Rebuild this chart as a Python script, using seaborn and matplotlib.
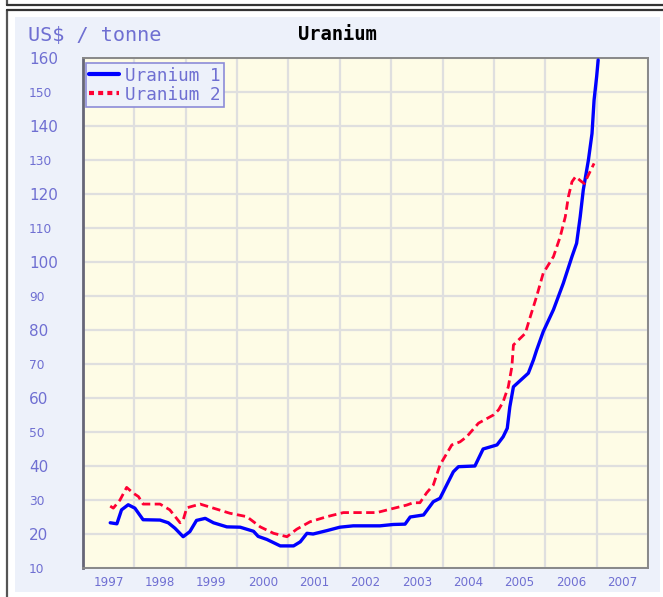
import matplotlib
matplotlib.use("Agg")
import matplotlib.pyplot as plt
import seaborn as sns
import pandas as pd
from matplotlib.patches import Rectangle
from matplotlib.lines import Line2D

# ---- data ----
u1_years = [1997.53, 1997.66, 1997.75, 1997.88, 1998.01, 1998.17, 1998.50, 1998.66, 1998.79,
            1998.95, 1999.08, 1999.21, 1999.38, 1999.54, 1999.80, 2000.06, 2000.32, 2000.41,
            2000.58, 2000.84, 2001.10, 2001.23, 2001.36, 2001.48, 2001.75, 2002.00, 2002.26,
            2002.78, 2003.04, 2003.27, 2003.37, 2003.63, 2003.82, 2003.95, 2004.21, 2004.31,
            2004.63, 2004.79, 2005.06, 2005.18, 2005.26, 2005.31, 2005.38, 2005.67, 2005.77,
            2005.83, 2005.96, 2006.16, 2006.35, 2006.52, 2006.61, 2006.68, 2006.74, 2006.84,
            2006.91, 2006.95, 2007.00, 2007.03]
u1_values = [23.3, 23.0, 27.1, 28.6, 27.6, 24.2, 24.1, 23.3, 21.7,
             19.2, 20.7, 24.0, 24.6, 23.3, 22.1, 22.0, 20.8, 19.3,
             18.4, 16.5, 16.5, 17.7, 20.2, 20.0, 21.0, 22.0, 22.4,
             22.4, 22.8, 22.9, 25.0, 25.6, 29.5, 30.5, 38.3, 39.8,
             40.0, 45.0, 46.2, 48.6, 51.1, 57.4, 63.3, 67.3, 71.2,
             74.0, 79.5, 86.0, 93.7, 101.6, 105.5, 113.3, 121.2, 130.0,
             137.8, 147.6, 154.5, 159.4]

u2_years = [1997.53, 1997.59, 1997.72, 1997.85, 1997.98, 1998.08, 1998.17, 1998.50, 1998.69,
            1998.89, 1998.95, 1999.02, 1999.28, 1999.54, 1999.86, 2000.19, 2000.45, 2000.71,
            2000.97, 2001.16, 2001.42, 2001.75, 2002.07, 2002.72, 2002.98, 2003.30, 2003.43,
            2003.56, 2003.69, 2003.82, 2003.95, 2004.18, 2004.34, 2004.47, 2004.70, 2004.99,
            2005.09, 2005.18, 2005.28, 2005.35, 2005.38, 2005.61, 2005.70, 2005.83, 2005.96,
            2006.16, 2006.29, 2006.39, 2006.45, 2006.52, 2006.59, 2006.71, 2006.76, 2006.84,
            2006.95]
u2_values = [28.2, 27.6, 30.0, 33.7, 32.0, 31.0, 28.8, 28.8, 27.1,
             23.3, 24.1, 27.7, 28.8, 27.6, 26.1, 25.1, 22.1, 20.2,
             19.2, 21.4, 23.6, 25.1, 26.3, 26.3, 27.3, 28.5, 29.2,
             29.2, 32.1, 34.4, 40.3, 46.2, 47.1, 48.6, 52.6, 55.0,
             56.5, 58.9, 63.3, 69.2, 75.6, 79.0, 83.5, 89.8, 96.7,
             101.6, 107.4, 113.3, 119.2, 123.6, 125.1, 123.6, 123.1, 125.6,
             129.0]

series_names = ["Uranium 1", "Uranium 2"]
year_labels = [str(y) for y in range(1997, 2008)]
y_ticks = list(range(10, 161, 10))
title = "Uranium"
y_unit = "US$ / tonne"

# ---- styling ----
sns.set_style("white")
plt.rcParams['font.family'] = ['DejaVu Sans']
LABEL_C = "#6f6fd2"
PANEL_C = "#edf1fa"
PLOT_BG = "#fefce6"
GRID_C = "#dfdfdf"

fig = plt.figure(figsize=(6.63, 5.97), dpi=100)
fig.patch.set_facecolor("white")

W, H = 663.0, 597.0
# outer frame lines
fig.add_artist(Line2D([7 / W, 7 / W], [0, 1 - 10 / H], color="#555555", lw=1.6, transform=fig.transFigure))
fig.add_artist(Line2D([7 / W, 7 / W], [1 - 5 / H, 1], color="#555555", lw=1.6, transform=fig.transFigure))
fig.add_artist(Line2D([7 / W, 1], [1 - 4.5 / H, 1 - 4.5 / H], color="#333333", lw=1.6, transform=fig.transFigure))
fig.add_artist(Line2D([7 / W, 1], [1 - 10 / H, 1 - 10 / H], color="#333333", lw=1.6, transform=fig.transFigure))
# blue panel
fig.add_artist(Rectangle((15 / W, 1 - 592 / H), 645 / W, 575 / H, transform=fig.transFigure,
                         facecolor=PANEL_C, edgecolor="none", zorder=0))

ax = fig.add_axes([83 / W, 1 - 568 / H, 565 / W, 510 / H])
ax.set_facecolor(PLOT_BG)

df1 = pd.DataFrame({"year": u1_years, "value": u1_values})
df2 = pd.DataFrame({"year": u2_years, "value": u2_values})
sns.lineplot(data=df1, x="year", y="value", ax=ax, color="#0000ff", lw=2.4,
             estimator=None, sort=False, zorder=3)
sns.lineplot(data=df2, x="year", y="value", ax=ax, color="#ff0033", lw=2.0,
             estimator=None, sort=False, zorder=3, dashes=False)
ax.lines[-1].set_linestyle((0, (3, 1.6)))

ax.set_xlim(1997, 2008)
ax.set_ylim(10, 160)
ax.set_xlabel("")
ax.set_ylabel("")

# x ticks: major at year boundaries, labels at mid-year
ax.set_xticks(range(1997, 2009))
ax.set_xticklabels([""] * 12)
ax.set_xticks([y + 0.5 for y in range(1997, 2008)], minor=True)
ax.set_xticklabels(year_labels, minor=True)
ax.tick_params(axis="x", which="major", length=5, width=1.2, color="#555555", direction="out")
ax.tick_params(axis="x", which="minor", length=2.5, width=1.0, color="#555555", direction="out",
               labelsize=8.6, labelcolor=LABEL_C, pad=3)

# y ticks: marks from the axis, labels drawn left-aligned at the panel edge
ax.set_yticks(y_ticks)
ax.set_yticklabels([""] * len(y_ticks))
ax.tick_params(axis="y", which="major", length=4, width=1.2, color="#555555", direction="out")
ytrans = ax.get_yaxis_transform()
for v in y_ticks:
    big = v % 20 == 0
    ax.text((29 - 83) / 565.0, v, str(v), transform=ytrans, ha="left", va="center_baseline",
            fontsize=11 if big else 8.8, color=LABEL_C, clip_on=False)

ax.grid(True, which="major", color=GRID_C, lw=1.6, zorder=0)
ax.set_axisbelow(True)
for side in ["top", "right", "bottom"]:
    ax.spines[side].set_color("#888888")
    ax.spines[side].set_linewidth(1.4)
ax.spines["left"].set_color("#666677")
ax.spines["left"].set_linewidth(2.0)

# titles
fig.text(28 / W, 1 - 35 / H, y_unit, fontsize=14.5, color=LABEL_C, family="DejaVu Sans Mono",
         va="center", ha="left")
fig.text(337 / W, 1 - 35 / H, title, fontsize=13.5, color="black", family="DejaVu Sans Mono",
         fontweight="semibold", va="center", ha="center")

# legend
handles = [Line2D([], [], color="#0000ff", lw=3.0),
           Line2D([], [], color="#ff0033", lw=3.0, linestyle=(0, (1.2, 1.0)))]
leg = ax.legend(handles, series_names, loc="upper left", bbox_to_anchor=(0.005, 0.99),
                frameon=True, fancybox=False, handlelength=1.7, handletextpad=0.3,
                borderpad=0.2, labelspacing=0.05, borderaxespad=0.0,
                prop={"family": "DejaVu Sans Mono", "size": 12.7})
leg.get_frame().set_facecolor(PANEL_C)
leg.get_frame().set_edgecolor("#8c8cd8")
leg.get_frame().set_linewidth(1.2)
leg.get_frame().set_alpha(1)
for t in leg.get_texts():
    t.set_color(LABEL_C)

fig.savefig("out.png", dpi=100, facecolor="white")
